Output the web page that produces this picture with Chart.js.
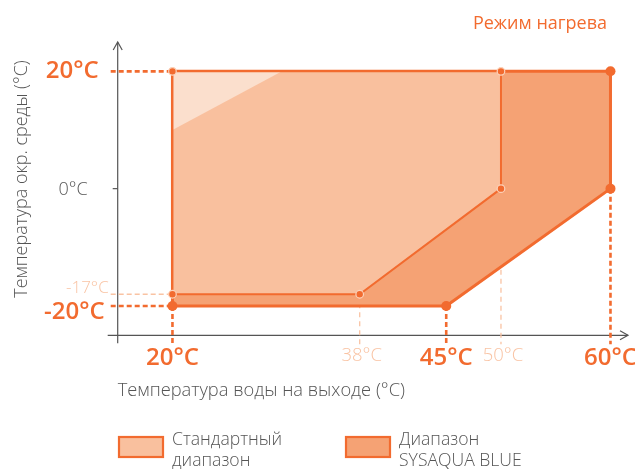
<!DOCTYPE html>
<html><head><meta charset="utf-8">
<script src="https://cdn.jsdelivr.net/npm/chart.js@4.4.1/dist/chart.umd.min.js"></script>
<style>html,body{margin:0;padding:0;background:#fff}#wrap{width:635px;height:469px;position:relative}</style>
</head><body><div id="wrap"><canvas id="c"></canvas></div>
<script>
// ---- data ----
const chartTitle = 'Режим нагрева';
const xAxisTitle = 'Температура воды на выходе (°C)';
const yAxisTitle = 'Температура окр. среды (°C)';
const legendStandard = ['Стандартный', 'диапазон'];
const legendSysaqua = ['Диапазон', 'SYSAQUA BLUE'];

const sysaquaX = [20, 60, 60, 45, 20, 20];
const sysaquaY = [20, 20, 0, -20, -20, 20];
const standardX = [20, 50, 50, 37.1, 20, 20];
const standardY = [20, 20, 0, -18, -18, 20];
const cornerX = [20, 20, 30, 20];
const cornerY = [10, 20, 20, 10];

const xTickValues = [20, 37.1, 45, 50, 60];
const xTickLabels = ['20°C', '38°C', '45°C', '50°C', '60°C'];
const xTickMajor = [true, false, true, false, true];
const xGuideFrom = [-20, -18, -20, 0, 0];

const yTickValues = [20, 0, -18, -20];
const yTickLabels = ['20°C', '0°C', '-17°C', '-20°C'];
const yTickKind = ['major', 'plain', 'minor', 'major'];

// ---- styles ----
const ORANGE = '#f26b2f';
const SYS_FILL = '#f5a274';
const STD_FILL = '#f9c09e';
const CORNER_FILL = '#fbdfcd';
const LIGHT = '#f9c3a3';
const GRAY = '#555555';
const FONT = '"Open Sans", "Noto Sans", sans-serif';

function pts(xs, ys) { return xs.map((x, i) => ({x, y: ys[i]})); }

const sysPts = pts(sysaquaX, sysaquaY);
const stdPts = pts(standardX, standardY);
const smallDots = stdPts.slice(0, 5);
const bigDots = sysPts.slice(1, 5);

const decor = {
  id: 'decor',
  beforeDatasetsDraw(chart) {
    const ctx = chart.ctx, xs = chart.scales.x, ys = chart.scales.y, a = chart.chartArea;
    ctx.save();
    ctx.strokeStyle = GRAY; ctx.lineWidth = 1.2; ctx.setLineDash([]);
    const ax = a.left, ay = a.bottom;
    ctx.beginPath(); ctx.moveTo(ax, a.bottom + 8); ctx.lineTo(ax, a.top); ctx.stroke();
    ctx.beginPath(); ctx.moveTo(ax - 4.5, a.top + 8); ctx.lineTo(ax, a.top); ctx.lineTo(ax + 4.5, a.top + 8); ctx.stroke();
    ctx.beginPath(); ctx.moveTo(a.left - 10, ay); ctx.lineTo(a.right, ay); ctx.stroke();
    ctx.beginPath(); ctx.moveTo(a.right - 8, ay - 4.5); ctx.lineTo(a.right, ay); ctx.lineTo(a.right - 8, ay + 4.5); ctx.stroke();
    const bottomEnd = a.bottom + 9;
    xTickValues.forEach((v, i) => {
      const px = xs.getPixelForValue(v);
      const py = ys.getPixelForValue(xGuideFrom[i]);
      ctx.beginPath();
      if (xTickMajor[i]) { ctx.strokeStyle = ORANGE; ctx.lineWidth = 2.6; ctx.setLineDash([5, 3]); }
      else { ctx.strokeStyle = LIGHT; ctx.lineWidth = 1.3; ctx.setLineDash([5, 4]); }
      ctx.moveTo(px, py); ctx.lineTo(px, bottomEnd); ctx.stroke();
    });
    yTickValues.forEach((v, i) => {
      const py = ys.getPixelForValue(v);
      const k = yTickKind[i];
      ctx.beginPath();
      if (k === 'plain') {
        ctx.setLineDash([]); ctx.strokeStyle = GRAY; ctx.lineWidth = 1.2;
        ctx.moveTo(ax - 5, py); ctx.lineTo(ax, py); ctx.stroke();
        return;
      }
      if (k === 'major') { ctx.strokeStyle = ORANGE; ctx.lineWidth = 2.6; ctx.setLineDash([5, 3]); }
      else { ctx.strokeStyle = LIGHT; ctx.lineWidth = 1.3; ctx.setLineDash([5, 3]); }
      ctx.moveTo(a.left - 7, py); ctx.lineTo(xs.getPixelForValue(20), py); ctx.stroke();
    });
    ctx.restore();
  },
  afterDraw(chart) {
    const ctx = chart.ctx, xs = chart.scales.x, ys = chart.scales.y, a = chart.chartArea;
    ctx.save();
    ctx.setLineDash([]);
    ctx.textAlign = 'center'; ctx.textBaseline = 'alphabetic';
    xTickValues.forEach((v, i) => {
      const px = xs.getPixelForValue(v);
      if (xTickMajor[i]) { ctx.font = '600 24px ' + FONT; ctx.fillStyle = ORANGE; ctx.fillText(xTickLabels[i], px, 365); }
      else { ctx.font = '300 18.5px ' + FONT; ctx.fillStyle = LIGHT; ctx.fillText(xTickLabels[i], px + 2, 361); }
    });
    ctx.textAlign = 'right'; ctx.textBaseline = 'middle';
    yTickValues.forEach((v, i) => {
      const py = ys.getPixelForValue(v);
      const k = yTickKind[i];
      if (k === 'major') {
        ctx.font = '600 24px ' + FONT; ctx.fillStyle = ORANGE;
        const last = (i === yTickValues.length - 1);
        ctx.fillText(yTickLabels[i], a.left - (last ? 13 : 19), py + (last ? 6 : 0));
      } else if (k === 'plain') {
        ctx.font = '300 18px ' + FONT; ctx.fillStyle = GRAY;
        ctx.fillText(yTickLabels[i], a.left - 30, py + 1);
      } else {
        ctx.font = '300 17px ' + FONT; ctx.fillStyle = LIGHT;
        ctx.fillText(yTickLabels[i], a.left - 9, py - 6);
      }
    });
    ctx.textAlign = 'right'; ctx.textBaseline = 'alphabetic';
    ctx.font = '400 18px ' + FONT; ctx.fillStyle = ORANGE;
    ctx.fillText(chartTitle, 607, 29);
    ctx.font = '300 18.3px ' + FONT; ctx.fillStyle = GRAY;
    ctx.textAlign = 'left';
    ctx.fillText(xAxisTitle, a.left, 396);
    ctx.save();
    ctx.translate(22, 179); ctx.rotate(-Math.PI / 2);
    ctx.textAlign = 'center'; ctx.textBaseline = 'middle';
    ctx.font = '300 18px ' + FONT;
    ctx.fillText(yAxisTitle, 0, 0);
    ctx.restore();
    function legendItem(x, fill, lines) {
      ctx.fillStyle = fill; ctx.strokeStyle = ORANGE; ctx.lineWidth = 2.2;
      ctx.fillRect(x, 437, 44, 20); ctx.strokeRect(x, 437, 44, 20);
      ctx.fillStyle = GRAY; ctx.font = '300 17.6px ' + FONT; ctx.textAlign = 'left';
      ctx.fillText(lines[0], x + 53, 445);
      ctx.fillText(lines[1], x + 53, 466);
    }
    legendItem(119, STD_FILL, legendStandard);
    legendItem(346, SYS_FILL, legendSysaqua);
    ctx.restore();
  }
};

new Chart(document.getElementById('c'), {
  type: 'scatter',
  data: {
    datasets: [
      { label: 'SYSAQUA BLUE', data: sysPts, showLine: true, fill: 'shape', backgroundColor: SYS_FILL,
        borderColor: ORANGE, borderWidth: 3, pointRadius: 0, order: 6, tension: 0, borderJoinStyle: 'round' },
      { label: 'std fill', data: stdPts, showLine: true, fill: 'shape', backgroundColor: STD_FILL,
        borderColor: 'rgba(0,0,0,0)', borderWidth: 0, pointRadius: 0, order: 5, tension: 0 },
      { label: 'corner', data: pts(cornerX, cornerY), showLine: true, fill: 'shape', backgroundColor: CORNER_FILL,
        borderColor: 'rgba(0,0,0,0)', borderWidth: 0, pointRadius: 0, order: 4, tension: 0 },
      { label: 'Стандартный диапазон', data: stdPts, showLine: true, fill: false,
        borderColor: ORANGE, borderWidth: 2, pointRadius: 0, order: 3, tension: 0 },
      { label: 'small', data: smallDots, showLine: false, pointRadius: 3.8, pointBackgroundColor: ORANGE,
        pointBorderColor: '#fcd3bb', pointBorderWidth: 1.2, order: 2 },
      { label: 'big', data: bigDots, showLine: false, pointRadius: 5, pointBackgroundColor: ORANGE,
        pointBorderColor: ORANGE, pointBorderWidth: 0, order: 1 }
    ]
  },
  options: {
    responsive: true, maintainAspectRatio: false, animation: false,
    layout: { padding: { left: 117.7, right: 7, top: 42, bottom: 133.7 } },
    scales: {
      x: { type: 'linear', min: 15, max: 61.6, display: false },
      y: { type: 'linear', min: -25, max: 25, display: false }
    },
    plugins: { legend: { display: false }, tooltip: { enabled: false }, title: { display: false } },
    clip: false
  },
  plugins: [decor]
});
</script></body></html>
